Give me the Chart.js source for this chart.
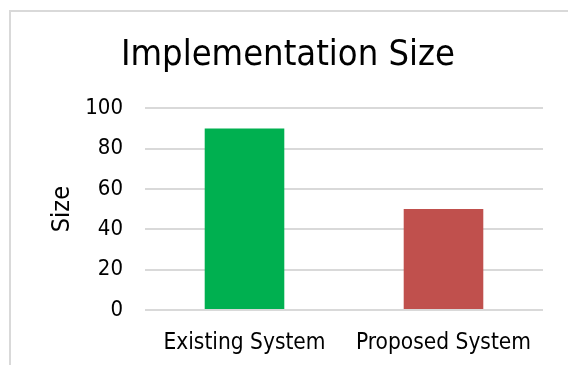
<!DOCTYPE html>
<html>
<head>
<meta charset="utf-8">
<script src="https://cdn.jsdelivr.net/npm/chart.js@4"></script>
<style>
  html, body { margin: 0; padding: 0; background: #fff; overflow: hidden; }
  #wrap { position: relative; width: 568px; height: 365px; }
  #frame {
    position: absolute; left: 9px; top: 10px;
    width: 600px; height: 400px;
    border: 2px solid #d9d9d9; box-sizing: border-box;
  }
  #chart { position: absolute; left: 0; top: 0; }
</style>
</head>
<body>
<div id="wrap">
  <div id="frame"></div>
  <canvas id="chart" width="568" height="365"></canvas>
</div>
<script>
// DATA
const systems = ["Existing System", "Proposed System"];
const sizes = [90, 50];
const barColors = ["#00b050", "#c0504d"];
const yTicks = [0, 20, 40, 60, 80, 100];

const FONT = "Tahoma, 'DejaVu Sans Condensed', 'DejaVu Sans', sans-serif";

new Chart(document.getElementById("chart"), {
  type: "bar",
  data: {
    labels: systems,
    datasets: [{
      data: sizes,
      backgroundColor: barColors,
      categoryPercentage: 1,
      barPercentage: 0.4
    }]
  },
  options: {
    responsive: false,
    animation: false,
    layout: { padding: { left: 33, right: 25, top: 0, bottom: 0 } },
    plugins: {
      legend: { display: false },
      tooltip: { enabled: false },
      title: {
        display: true,
        text: "Implementation Size",
        color: "#000",
        font: { family: FONT, size: 36, weight: "normal" },
        padding: { top: 34, bottom: 31 }
      }
    },
    scales: {
      x: {
        grid: { display: false },
        border: { display: false },
        ticks: {
          color: "#000",
          padding: 12,
          font: { family: FONT, size: 22.5 }
        },
        afterFit: s => { s.height = 55; }
      },
      y: {
        min: 0,
        max: 100,
        afterBuildTicks: s => { s.ticks = yTicks.map(v => ({ value: v })); },
        grid: { color: "#d9d9d9", lineWidth: 2, drawTicks: false },
        border: { display: false },
        ticks: {
          color: "#000",
          padding: 22,
          font: { family: FONT, size: 22 }
        },
        title: {
          display: true,
          text: "Size",
          color: "#000",
          padding: { top: 14, bottom: 0 },
          font: { family: FONT, size: 25 }
        },
        afterFit: s => { s.width = 112; }
      }
    }
  }
});
</script>
</body>
</html>
